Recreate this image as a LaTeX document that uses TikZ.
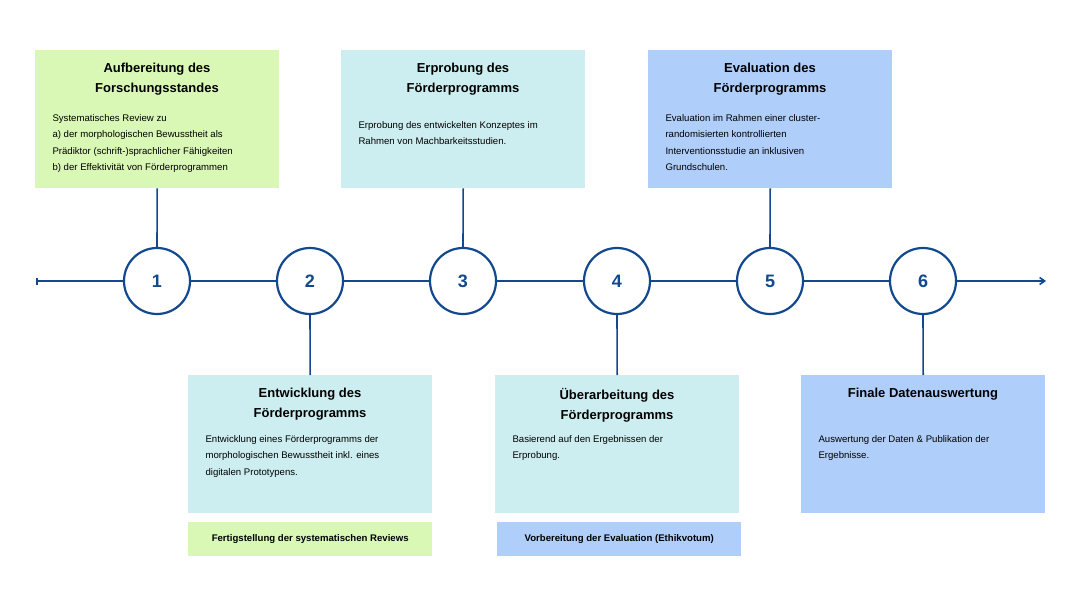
\documentclass[tikz,border=0pt]{standalone}
\usepackage{fontspec}
\setmainfont{Liberation Sans}
\usetikzlibrary{arrows.meta}
\definecolor{cgreen}{HTML}{D9F8B5}
\definecolor{ccyan}{HTML}{CDEEF0}
\definecolor{cblue}{HTML}{B0CEFA}
\definecolor{cline}{HTML}{12498E}
\begin{document}
\begin{tikzpicture}[x=1pt,y=-1pt,
 box/.style={minimum width=244pt,minimum height=138pt,anchor=north west,inner sep=0pt},
 ttl/.style={font=\bfseries\fontsize{13}{20}\selectfont,align=center,anchor=north},
 body/.style={font=\fontsize{9.6}{16.5}\selectfont,align=left,anchor=north west},
 circ/.style={circle,draw=cline,line width=2.2pt,fill=white,minimum size=66pt,font=\bfseries\fontsize{18}{18}\selectfont,text=cline},
 conn/.style={draw=cline,line width=1.6pt},
 small/.style={minimum width=244pt,minimum height=34pt,anchor=north west,inner sep=0pt,font=\bfseries\fontsize{9.6}{12}\selectfont}]
\useasboundingbox (0,0) rectangle (1080,607);
\fill[white] (0,0) rectangle (1080,607);
% boxes
\node[box,fill=cgreen] (b1) at (35,50) {};
\node[box,fill=ccyan] (b2) at (188,375) {};
\node[box,fill=ccyan] (b3) at (341,50) {};
\node[box,fill=ccyan] (b4) at (495,375) {};
\node[box,fill=cblue] (b5) at (648,50) {};
\node[box,fill=cblue] (b6) at (801,375) {};
\node[small,fill=cgreen] (s1) at (188,522) {Fertigstellung der systematischen Reviews};
\node[small,fill=cblue] (s2) at (497,522) {Vorbereitung der Evaluation (Ethikvotum)};
% titles
\node[ttl] (t1) at (157,60) {Aufbereitung des\\Forschungsstandes};
\node[ttl] (t2) at (310,385) {Entwicklung des\\Förderprogramms};
\node[ttl] (t3) at (463,60) {Erprobung des\\Förderprogramms};
\node[ttl] (t4) at (617,385) {Überarbeitung des\\Förderprogramms};
\node[ttl] (t5) at (770,60) {Evaluation des\\Förderprogramms};
\node[ttl] (t6) at (923,385) {Finale Datenauswertung};
% bodies
\node[body] (d1) at (49,111) {Systematisches Review zu\\a) der morphologischen Bewusstheit als\\Prädiktor (schrift-)sprachlicher Fähigkeiten\\b) der Effektivität von Förderprogrammen};
\node[body] (d2) at (202,432) {Entwicklung eines Förderprogramms der\\morphologischen Bewusstheit inkl. eines\\digitalen Prototypens.};
\node[body] (d3) at (355,118) {Erprobung des entwickelten Konzeptes im\\Rahmen von Machbarkeitsstudien.};
\node[body] (d4) at (509,432) {Basierend auf den Ergebnissen der\\Erprobung.};
\node[body] (d5) at (662,111) {Evaluation im Rahmen einer cluster-\\randomisierten kontrollierten\\Interventionsstudie an inklusiven\\Grundschulen.};
\node[body] (d6) at (815,432) {Auswertung der Daten \& Publikation der\\Ergebnisse.};
% axis
\coordinate (a0) at (36,281);
\coordinate (a1) at (1046,281);
\draw[conn,{Bar[width=7pt]}-{Straight Barb[length=5pt,width=7pt]}] (a0) -- (a1);
\foreach \i/\x in {1/157,2/310,3/463,4/617,5/770,6/923}{
 \node[circ] (c\i) at (\x,281) {\i};
}
\draw[conn] (b1.south) -- (c1.north);
\draw[conn] (b3.south) -- (c3.north);
\draw[conn] (b5.south) -- (c5.north);
\draw[conn] (c2.south) -- (b2.north);
\draw[conn] (c4.south) -- (b4.north);
\draw[conn] (c6.south) -- (b6.north);
\end{tikzpicture}
\end{document}
